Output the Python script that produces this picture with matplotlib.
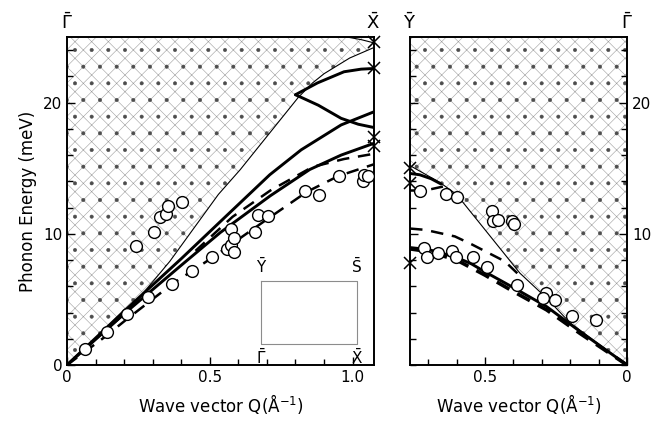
import matplotlib
matplotlib.use('Agg')
import matplotlib.pyplot as plt
from matplotlib.ticker import MultipleLocator, FixedLocator

plt.rcParams['font.family'] = ['DejaVu Sans']
plt.rcParams['mathtext.fontset'] = 'dejavusans'
plt.rcParams['hatch.linewidth'] = 0.4

# ---------------- data: left panel (Gamma -> X) ----------------
QMAX_L = 1.075
thinL_Q = [0, 0.21, 0.36, 0.53, 0.607, 0.81, 0.86, 0.90, 0.99, 1.075]
thinL_E = [0, 4.0, 7.9, 13.0, 14.9, 20.4, 21.5, 22.2, 23.4, 24.2]
thinL2_Q = [0.98, 1.03, 1.075]
thinL2_E = [25.0, 24.8, 24.55]

B_Q = [0, 0.2, 0.4, 0.55, 0.71, 0.82, 0.96, 1.075]
B_E = [0, 4.1, 8.1, 11.2, 14.5, 16.4, 18.3, 19.3]
S1_Q = [0, 0.2, 0.4, 0.537, 0.712, 0.85, 0.96, 1.075]
S1_E = [0, 3.9, 7.6, 10.1, 12.9, 14.9, 16.0, 16.9]
C2_Q = [0.80, 0.88, 0.96, 1.02, 1.075]
C2_E = [20.6, 19.8, 18.8, 18.35, 18.1]
C3_Q = [0.80, 0.877, 0.97, 1.03, 1.075]
C3_E = [20.6, 21.5, 22.35, 22.55, 22.6]
D2_Q = [0.45, 0.58, 0.712, 0.86, 0.97, 1.075]
D2_E = [8.7, 11.3, 13.3, 15.1, 15.7, 16.1]
D1_Q = [0, 0.13, 0.21, 0.37, 0.51, 0.70, 0.84, 0.95, 1.075]
D1_E = [0, 2.1, 3.5, 6.2, 8.2, 11.1, 13.2, 14.4, 15.3]

circL_Q = [0.063, 0.139, 0.209, 0.282, 0.367, 0.437, 0.508, 0.242, 0.303, 0.324,
           0.347, 0.355, 0.402, 0.56, 0.575, 0.584, 0.575, 0.584, 0.66, 0.668,
           0.703, 0.835, 0.884, 0.952, 1.036, 1.04, 1.054]
circL_E = [1.2, 2.5, 3.9, 5.2, 6.2, 7.2, 8.25, 9.1, 10.1, 11.3,
           11.5, 12.1, 12.4, 8.85, 9.15, 8.65, 10.4, 9.65, 10.1, 11.4,
           11.35, 13.3, 12.95, 14.4, 14.05, 14.5, 14.4]
xL_E = [24.6, 22.6, 17.4, 16.7]

# ---------------- data: right panel (Y -> Gamma) ----------------
QMAX_R = 0.764
thinR_Q = [0, 0.2, 0.283, 0.377, 0.507, 0.6, 0.658, 0.764]
thinR_E = [0, 3.2, 5.1, 7.0, 10.5, 13.0, 13.9, 15.2]
UR_Q = [0.764, 0.73, 0.69, 0.655]
UR_E = [14.6, 14.5, 14.2, 13.8]
UDR_Q = [0.764, 0.729, 0.69, 0.648]
UDR_E = [13.3, 13.3, 13.4, 13.6]
D2R_Q = [0.764, 0.71, 0.606, 0.547, 0.43, 0.377]
D2R_E = [10.4, 10.3, 9.8, 9.2, 7.9, 6.8]
S1R_Q = [0.764, 0.7, 0.664, 0.6, 0.547, 0.5, 0.4, 0.283, 0.165, 0]
S1R_E = [8.95, 8.8, 8.6, 8.2, 7.7, 7.1, 5.9, 4.45, 2.55, 0]
D1R_Q = [0.764, 0.7, 0.6, 0.5, 0.4, 0.283, 0.165, 0]
D1R_E = [8.85, 8.65, 8.0, 6.85, 5.6, 4.2, 2.4, 0]

circR_Q = [0.729, 0.637, 0.6, 0.474, 0.471, 0.453, 0.404, 0.398, 0.715, 0.705,
           0.664, 0.617, 0.602, 0.543, 0.494, 0.386, 0.286, 0.297, 0.254, 0.195, 0.109]
circR_E = [13.3, 13.0, 12.8, 11.75, 11.0, 11.05, 11.0, 10.75, 8.9, 8.2,
           8.5, 8.7, 8.25, 8.2, 7.5, 6.1, 5.45, 5.1, 4.95, 3.75, 3.45]
xR_E = [15.0, 13.9, 7.8]

# inset Brillouin-zone rectangle (in left-panel data units)
rect_Q = [0.68, 1.015, 1.015, 0.68, 0.68]
rect_E = [6.4, 6.4, 1.6, 1.6, 6.4]

EMAX = 25

fig = plt.figure(figsize=(6.52, 4.21), dpi=100)
axL = fig.add_axes([67/652, 1-365/421, (374-67)/652, (365-37)/421])
axR = fig.add_axes([410/652, 1-365/421, (627-410)/652, (365-37)/421])

thick = dict(color='black', lw=2.1, solid_capstyle='round')
thin = dict(color='black', lw=0.8)
dash = dict(color='black', lw=1.8, dashes=(5, 3.5))
circ = dict(ls='none', marker='o', ms=8.5, mfc='white', mec='black', mew=1.0, zorder=5)
xm = dict(ls='none', marker='x', ms=8, mec='black', mew=1.1, clip_on=False, zorder=6)
HATCH = 'xx'
HCOL = '0.62'


def bulk(ax, q, e):
    ax.fill_between(q, e, EMAX, facecolor='none', edgecolor=HCOL,
                    hatch=HATCH, linewidth=0, zorder=0)
    ax.fill_between(q, e, EMAX, facecolor='none', edgecolor='0.3',
                    hatch='.', linewidth=0, zorder=0)


# ---- left panel ----
ax = axL
bulk(ax, thinL_Q, thinL_E)
ax.plot(thinL_Q, thinL_E, **thin)
ax.plot(thinL2_Q, thinL2_E, **thin)
ax.plot(B_Q, B_E, **thick)
ax.plot(S1_Q, S1_E, **thick)
ax.plot(C2_Q, C2_E, **thick)
ax.plot(C3_Q, C3_E, **thick)
ax.plot(D2_Q, D2_E, **dash)
ax.plot(D1_Q, D1_E, **dash)
ax.plot(circL_Q, circL_E, **circ)
ax.plot([QMAX_L] * len(xL_E), xL_E, **xm)
ax.plot(rect_Q, rect_E, color='0.55', lw=0.8)
ax.text(rect_Q[0], rect_E[0] + 0.4, r'$\bar{\mathrm{Y}}$', ha='center', va='bottom', fontsize=11)
ax.text(rect_Q[1], rect_E[0] + 0.4, r'$\bar{\mathrm{S}}$', ha='center', va='bottom', fontsize=11)
ax.text(rect_Q[0], rect_E[2] - 0.3, r'$\bar{\Gamma}$', ha='center', va='top', fontsize=11)
ax.text(rect_Q[1], rect_E[2] - 0.3, r'$\bar{\mathrm{X}}$', ha='center', va='top', fontsize=11)

ax.set_xlim(0, QMAX_L)
ax.set_ylim(0, EMAX)
ax.xaxis.set_major_locator(FixedLocator([0, 0.5, 1.0]))
ax.xaxis.set_minor_locator(MultipleLocator(0.1))
ax.yaxis.set_major_locator(FixedLocator([0, 10, 20]))
ax.yaxis.set_minor_locator(MultipleLocator(2))
ax.set_xticklabels(['0', '0.5', '1.0'])
ax.tick_params(which='both', direction='in', top=False, right=False, labelsize=11)
ax.tick_params(which='major', length=6, width=1)
ax.tick_params(which='minor', length=4, width=1)
ax.set_ylabel('Phonon Energy (meV)', fontsize=12, labelpad=4)
ax.set_xlabel('Wave vector Q(Å$^{-1}$)', fontsize=12, labelpad=5)
ax.text(0, 1.045, r'$\bar{\Gamma}$', transform=ax.get_xaxis_transform(), ha='center', va='center', fontsize=13)
ax.text(QMAX_L - 0.005, 1.045, r'$\bar{\mathrm{X}}$', transform=ax.get_xaxis_transform(), ha='center', va='center', fontsize=13)

# ---- right panel ----
ax = axR
bulk(ax, thinR_Q, thinR_E)
ax.plot(thinR_Q, thinR_E, **thin)
ax.plot(UR_Q, UR_E, **thick)
ax.plot(UDR_Q, UDR_E, **dash)
ax.plot(D2R_Q, D2R_E, **dash)
ax.plot(S1R_Q, S1R_E, **thick)
ax.plot(D1R_Q, D1R_E, color='black', lw=2.6, dashes=(4, 2.5))
ax.plot(circR_Q, circR_E, **circ)
ax.plot([QMAX_R] * len(xR_E), xR_E, **xm)

ax.set_xlim(QMAX_R, 0)
ax.set_ylim(0, EMAX)
ax.xaxis.set_major_locator(FixedLocator([0.5, 0]))
ax.xaxis.set_minor_locator(MultipleLocator(0.1))
ax.set_xticklabels(['0.5', '0'])
ax.yaxis.set_major_locator(FixedLocator([10, 20]))
ax.yaxis.set_minor_locator(MultipleLocator(2))
ax.yaxis.tick_right()
ax.tick_params(which='both', direction='in', left=True, right=True, top=False,
               labelleft=False, labelright=True, labelsize=11)
ax.tick_params(which='major', length=6, width=1)
ax.tick_params(which='minor', length=4, width=1)
ax.set_xlabel('Wave vector Q(Å$^{-1}$)', fontsize=12, labelpad=5)
ax.text(QMAX_R, 1.045, r'$\bar{\mathrm{Y}}$', transform=ax.get_xaxis_transform(), ha='center', va='center', fontsize=13)
ax.text(0, 1.045, r'$\bar{\Gamma}$', transform=ax.get_xaxis_transform(), ha='center', va='center', fontsize=13)

for a in (axL, axR):
    for s in a.spines.values():
        s.set_linewidth(1.4)

fig.savefig('out.png', dpi=100)
